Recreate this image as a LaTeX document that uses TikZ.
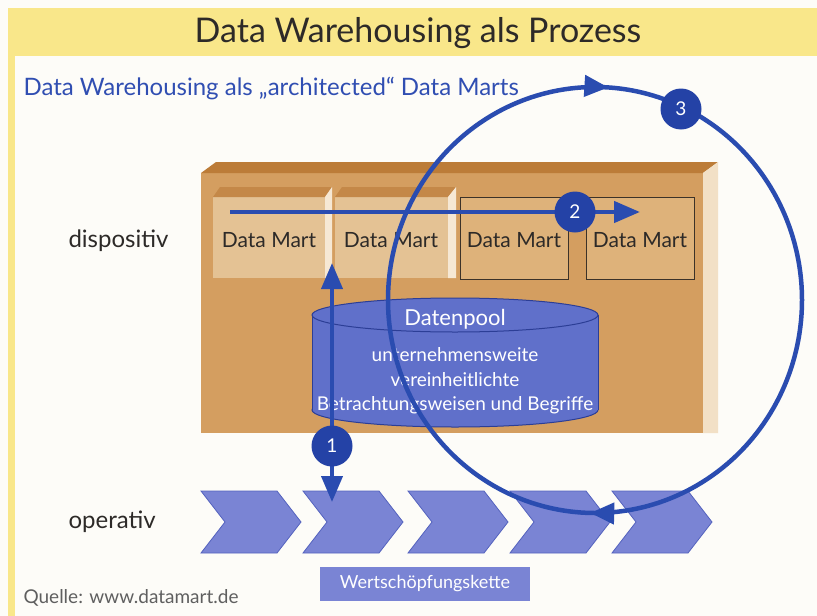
\documentclass[tikz,border=0pt]{standalone}
\usepackage{fontspec}
\setmainfont{Lato}
\usetikzlibrary{arrows.meta,decorations.markings}
\definecolor{ttlyellow}{RGB}{249,231,138}
\definecolor{bgwhite}{RGB}{253,252,248}
\definecolor{brfront}{RGB}{212,158,96}
\definecolor{brtop}{RGB}{188,124,56}
\definecolor{brside}{RGB}{242,224,198}
\definecolor{dmfill}{RGB}{228,194,148}
\definecolor{dmtop}{RGB}{196,136,72}
\definecolor{dmside}{RGB}{246,232,212}
\definecolor{dmplain}{RGB}{222,178,122}
\definecolor{dmline}{RGB}{60,50,40}
\definecolor{arrblue}{RGB}{42,76,176}
\definecolor{circblue}{RGB}{36,66,166}
\definecolor{cylfill}{RGB}{96,112,202}
\definecolor{cylline}{RGB}{44,62,150}
\definecolor{chevfill}{RGB}{122,132,212}
\definecolor{chevline}{RGB}{84,98,190}
\definecolor{txtdark}{RGB}{45,42,40}
\definecolor{subblue}{RGB}{48,78,178}
\definecolor{srcgray}{RGB}{95,95,95}
\tikzset{
  dmtext/.style={font=\fontsize{21}{24}\selectfont, text=txtdark},
  sidelabel/.style={font=\fontsize{24}{28}\selectfont, text=txtdark, anchor=west},
  numcirc/.style={circle, fill=circblue, minimum size=41pt, inner sep=0pt, text=white, font=\fontsize{19}{22}\selectfont},
  chev/.style={fill=chevfill, draw=chevline, line width=0.8pt, line join=miter},
  flowarrow/.style={draw=arrblue, line width=4.5pt, -{Triangle[length=26pt,width=21pt]}},
  cyltext/.style={text=white, font=\fontsize{19}{22}\selectfont},
}
\begin{document}
\begin{tikzpicture}[x=1pt,y=-1pt]
\useasboundingbox (0,0) rectangle (817,616);
\fill[bgwhite] (0,0) rectangle (817,616);
% title band
\fill[ttlyellow] (8,8) rectangle (817,56);
\fill[ttlyellow] (8,56) rectangle (15,616);
\node[font=\fontsize{34}{38}\selectfont, text=txtdark] (title) at (418,33) {Data Warehousing als Prozess};
\node[font=\fontsize{24}{27}\selectfont, text=subblue, anchor=west] (subtitle) at (20,89) {Data Warehousing als „architected“ Data Marts};
% big brown box
\fill[brfront] (201,173) rectangle (703,433);
\fill[brtop] (201,173) -- (216,162) -- (718,162) -- (703,173) -- cycle;
\fill[brside] (703,173) -- (718,162) -- (718,433) -- (703,433) -- cycle;
% data marts 1 and 2 (3D)
\fill[dmfill] (213,197) rectangle (325,278);
\fill[dmtop] (213,197) -- (220,187) -- (332,187) -- (325,197) -- cycle;
\fill[dmside] (325,197) -- (332,187) -- (332,278) -- (325,278) -- cycle;
\fill[dmfill] (335,197) rectangle (448,278);
\fill[dmtop] (335,197) -- (342,187) -- (456,187) -- (448,197) -- cycle;
\fill[dmside] (448,197) -- (456,187) -- (456,278) -- (448,278) -- cycle;
% data marts 3 and 4 (outlined)
\filldraw[fill=dmplain, draw=dmline, line width=0.9pt] (460,197) rectangle (568,279);
\filldraw[fill=dmplain, draw=dmline, line width=0.9pt] (586,197) rectangle (694,279);
\node[dmtext] (dm1) at (269,240) {Data Mart};
\node[dmtext] (dm2) at (391,240) {Data Mart};
\node[dmtext] (dm3) at (514,240) {Data Mart};
\node[dmtext] (dm4) at (640,240) {Data Mart};
% Datenpool cylinder
\filldraw[fill=cylfill, draw=cylline, line width=1pt] (455,410) ellipse [x radius=143, y radius=17];
\fill[cylfill] (312,315) rectangle (598,410);
\draw[cylline, line width=1pt] (312,315) -- (312,410) (598,315) -- (598,410);
\filldraw[fill=cylfill, draw=cylline, line width=1pt] (455,315) ellipse [x radius=143, y radius=17];
\node[cyltext, font=\fontsize{22}{26}\selectfont] (pool) at (455,319) {Datenpool};
\node[cyltext] (pool1) at (455,355) {unternehmensweite};
\node[cyltext] (pool2) at (455,380) {vereinheitlichte};
\node[cyltext] (pool3) at (455,405) {Betrachtungsweisen und Begriffe};
% labels
\node[sidelabel] (disp) at (65,241) {dispositiv};
\node[sidelabel] (oper) at (65,522) {operativ};
% chevrons
\foreach \L [count=\i] in {201,303,408,510,612}{
  \filldraw[chev] (\L,491) -- ++(76,0) -- ++(24,31) -- ++(-24,31) -- ++(-76,0) -- ++(24,-31) -- cycle;
}
\node[fill=chevfill, minimum width=210pt, minimum height=34pt, inner sep=0pt, text=white, font=\fontsize{18}{21}\selectfont] (wsk) at (425,584) {Wertschöpfungskette};
\node[font=\fontsize{19}{22}\selectfont, text=srcgray, anchor=west] (src) at (20,598) {Quelle: www.datamart.de};
% arrow 1
\coordinate (a1top) at (332,263);
\coordinate (a1bot) at (332,502);
\draw[draw=arrblue, line width=4pt, {Triangle[length=26pt,width=21pt]}-{Triangle[length=26pt,width=21pt]}] (a1top) -- (a1bot);
% arrow 2
\coordinate (a2start) at (230,212);
\coordinate (a2end) at (640,212);
\draw[flowarrow] (a2start) -- (a2end);
% cycle 3
\draw[arrblue, line width=4.5pt, postaction={decorate}, decoration={markings,
   mark=at position 0.0925 with {\arrow{Triangle[length=24pt,width=21pt]}},
   mark=at position 0.586 with {\arrow{Triangle[length=24pt,width=21pt]}}}]
   plot[domain=120:-240, samples=181, smooth] ({595+207*cos(\x)}, {300-213*sin(\x)});
% number circles
\node[numcirc] (c1) at (332,446) {1};
\node[numcirc] (c2) at (575,212) {2};
\node[numcirc] (c3) at (681,109) {3};
\end{tikzpicture}
\end{document}
